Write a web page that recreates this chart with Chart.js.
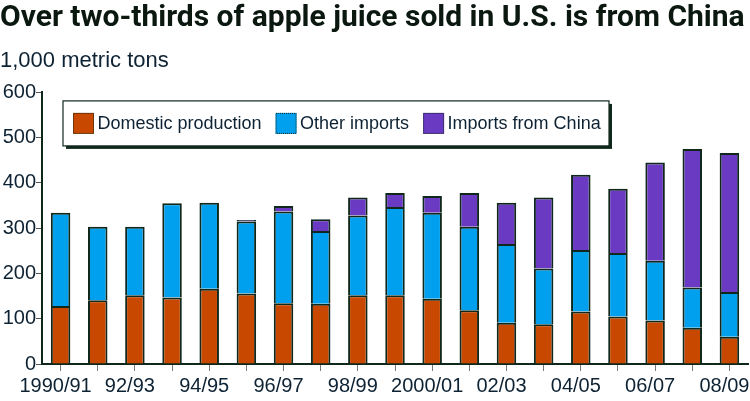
<!DOCTYPE html>
<html>
<head>
<meta charset="utf-8">
<script src="https://cdn.jsdelivr.net/npm/chart.js@4"></script>
<style>
  body { margin: 0; background: #fff; }
  #wrap { position: relative; width: 750px; height: 401px; }
</style>
</head>
<body>
<div id="wrap"><canvas id="chart"></canvas></div>
<script>
var seasons = ["1990/91", "91/92", "92/93", "93/94", "94/95", "95/96", "96/97", "97/98", "98/99", "99/2000",
	"2000/01", "01/02", "02/03", "03/04", "04/05", "05/06", "06/07", "07/08", "08/09"];
var domestic = [128, 141, 152, 147, 166, 156, 134, 133, 152, 152, 144, 119, 91, 88, 116, 105, 96, 80, 60];
var otherImports = [206, 162, 151, 208, 190, 159, 203, 161, 176, 195, 190, 184, 174, 123, 136, 140, 132, 89, 99];
var chinaImports = [0, 0, 0, 0, 0, 3, 12, 26, 40, 31, 37, 75, 91, 157, 166, 142, 217, 306, 307];
var yTicks = [0, 100, 200, 300, 400, 500, 600];

var ink = "#10281c";
var textCol = "#0d2233";

// boxed legend with drop shadow, drawn inside the plot
var boxLegend = {
	id: "boxLegend",
	afterDatasetsDraw: function (chart) {
		var ctx = chart.ctx;
		var area = chart.chartArea;
		var x = area.left + 21, y = area.top + 8.5, w = 546, h = 45;
		ctx.save();
		ctx.fillStyle = ink;
		ctx.fillRect(x + 3, y + 3, w, h);
		ctx.fillStyle = "#fff";
		ctx.fillRect(x, y, w, h);
		ctx.strokeStyle = ink;
		ctx.lineWidth = 1.2;
		ctx.strokeRect(x, y, w, h);

		ctx.font = "18px 'Liberation Sans', Arial, sans-serif";
		ctx.textBaseline = "middle";
		var ix = x + 10;
		var cy = y + 22.5;
		chart.data.datasets.forEach(function (ds) {
			ctx.fillStyle = ds.backgroundColor;
			ctx.fillRect(ix, cy - 10.5, 21, 21);
			ctx.strokeStyle = ink;
			ctx.lineWidth = 1;
			ctx.setLineDash([1, 1]);
			ctx.strokeRect(ix + 0.5, cy - 10, 20, 20);
			ctx.setLineDash([]);
			ctx.fillStyle = textCol;
			ctx.fillText(ds.label, ix + 24.5, cy + 1);
			ix += 24.5 + ctx.measureText(ds.label).width + 14;
		});
		ctx.restore();
	}
};

function barSet(label, data, color) {
	return {
		label: label,
		data: data,
		backgroundColor: color,
		borderColor: ink,
		borderWidth: 2,
		borderSkipped: "start",
		barPercentage: 0.525,
		categoryPercentage: 1
	};
}

new Chart(document.getElementById("chart"), {
	type: "bar",
	data: {
		labels: seasons,
		datasets: [
			barSet("Domestic production", domestic, "#c84800"),
			barSet("Other imports", otherImports, "#00a0ee"),
			barSet("Imports from China", chinaImports, "#6a3ac2")
		]
	},
	options: {
		responsive: true,
		maintainAspectRatio: false,
		animation: false,
		layout: { padding: { left: 0, right: 2, top: 0, bottom: 0 } },
		plugins: {
			legend: { display: false },
			tooltip: { enabled: false },
			title: {
				display: true,
				text: "Over two-thirds of apple juice sold in U.S. is from China",
				align: "start",
				color: "#0b1810",
				font: { family: "Roboto", weight: "bold", size: 30, lineHeight: 1.2 },
				padding: { top: 0, bottom: 0 }
			},
			subtitle: {
				display: true,
				text: "1,000 metric tons",
				align: "start",
				color: textCol,
				font: { family: "'Liberation Sans', Arial, sans-serif", size: 22, lineHeight: 1.2 },
				padding: { top: 12, bottom: 18 }
			}
		},
		scales: {
			x: {
				stacked: true,
				z: 1,
				border: { display: true, color: ink, width: 2 },
				grid: { display: true, offset: false, drawOnChartArea: false, drawTicks: true, tickLength: 7, color: "#777" },
				ticks: {
					autoSkip: false,
					maxRotation: 0,
					padding: 3,
					labelOffset: -5,
					color: textCol,
					font: { family: "'Liberation Sans', Arial, sans-serif", size: 20 },
					callback: function (v, i) { return i % 2 === 0 ? seasons[i] : ""; }
				},
				afterFit: function (s) { s.paddingLeft = 0; s.paddingRight = 0; }
			},
			y: {
				stacked: true,
				min: 0,
				max: 600,
				border: { display: true, color: ink, width: 2 },
				grid: { display: true, drawOnChartArea: false, drawTicks: true, tickLength: 6, color: "#555" },
				afterBuildTicks: function (s) { s.ticks = yTicks.map(function (v) { return { value: v }; }); },
				ticks: {
					padding: 0,
					color: textCol,
					font: { family: "'Liberation Sans', Arial, sans-serif", size: 20 }
				},
				afterFit: function (s) { s.width = 42; }
			}
		}
	},
	plugins: [boxLegend]
});
</script>
</body>
</html>
